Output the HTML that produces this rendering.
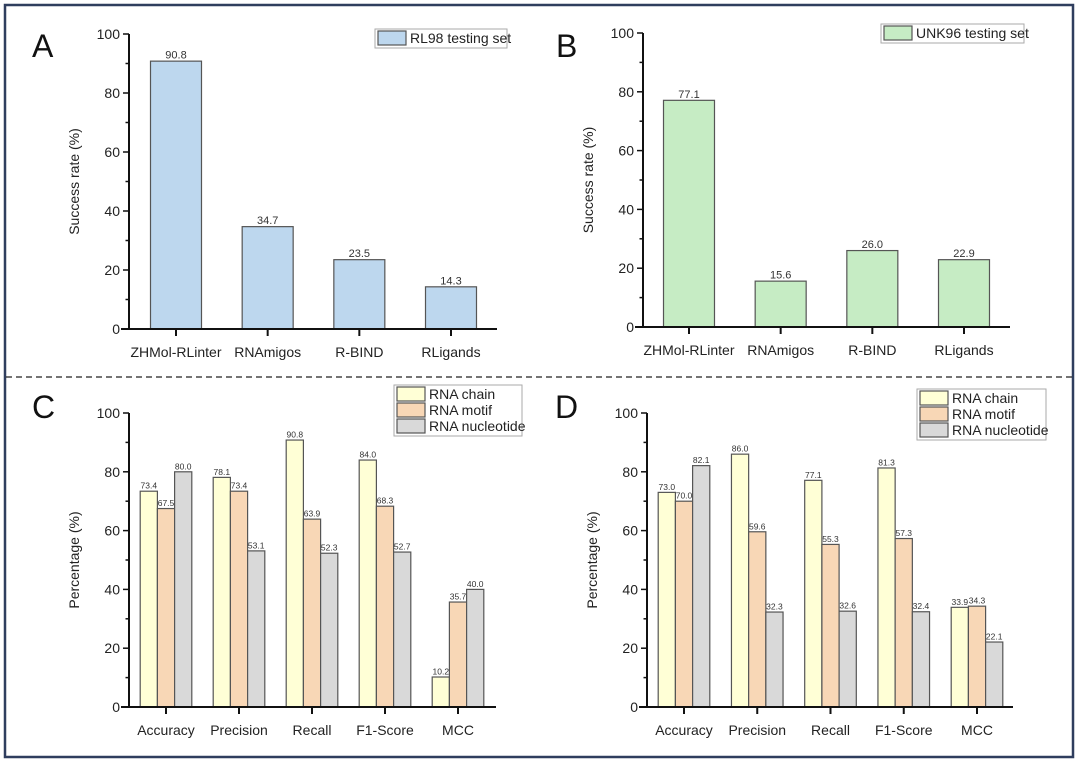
<!DOCTYPE html>
<html><head><meta charset="utf-8"><style>
html,body{margin:0;padding:0;background:#fff;}
svg{display:block;font-family:"Liberation Sans",Arial,sans-serif;}
</style></head><body>
<svg id="fig" width="1080" height="765" viewBox="0 0 1080 765">
<rect x="5" y="5" width="1068" height="752" fill="none" stroke="#2f3e5e" stroke-width="2.5"/>
<line x1="6" y1="377" x2="1072" y2="377" stroke="#222" stroke-width="1.2" stroke-dasharray="6,4"/>
</svg>
<script>
const catsAB = ["ZHMol-RLinter","RNAmigos","R-BIND","RLigands"];
const valsA = [90.8,34.7,23.5,14.3];
const valsB = [77.1,15.6,26.0,22.9];
const catsCD = ["Accuracy","Precision","Recall","F1-Score","MCC"];
const seriesNames = ["RNA chain","RNA motif","RNA nucleotide"];
const chainC = [73.4,78.1,90.8,84.0,10.2];
const motifC = [67.5,73.4,63.9,68.3,35.7];
const nucC = [80.0,53.1,52.3,52.7,40.0];
const chainD = [73.0,86.0,77.1,81.3,33.9];
const motifD = [70.0,59.6,55.3,57.3,34.3];
const nucD = [82.1,32.3,32.6,32.4,22.1];
const yTicks = [0,20,40,60,80,100];

const NS="http://www.w3.org/2000/svg";
const svg=document.getElementById('fig');
function mk(tag,attrs,parent,text){const e=document.createElementNS(NS,tag);for(const k in attrs)e.setAttribute(k,attrs[k]);if(text!==undefined)e.textContent=text;(parent||svg).appendChild(e);return e;}

function panel(p){
  const g=mk('g',{});
  
  
  const y=v=>p.y0-(p.y0-p.y100)*v/100;
  const n=p.cats.length, step=(p.xc[n-1]-p.xc[0])/(n-1);
  const xc=i=>p.xc[0]+i*step;
  // letter
  const L=mk('text',{x:p.lx,y:p.ly,'font-size':32,fill:'#111'},g,p.letter);
  
  
  // bars
  p.series.forEach((s,si)=>{
    s.vals.forEach((v,i)=>{
      const x0=xc(i)-p.bw*p.series.length/2+si*p.bw;
      const r=mk('rect',{x:x0,y:y(v),width:p.bw,height:p.y0-y(v),fill:s.color,stroke:'#555','stroke-width':1.2},g);
      
      
      const t=mk('text',{x:x0+p.bw/2,y:y(v)-2.5,'font-size':p.vfs,'text-anchor':'middle',fill:'#333'},g,v.toFixed(1));
      
      
    });
  });
  // axes
  const ax=mk('line',{x1:p.ax,y1:p.y100,x2:p.ax,y2:p.y0+1,stroke:'#111','stroke-width':2},g);
  
  
  const bx=mk('line',{x1:p.ax-8,y1:p.y0,x2:p.xend,y2:p.y0,stroke:'#111','stroke-width':2},g);
  
  
  for(let v=0;v<=100;v+=10){
    const major=v%20===0;
    mk('line',{x1:p.ax-(major?6:3.5),y1:y(v),x2:p.ax,y2:y(v),stroke:'#111','stroke-width':1.5},g);
  }
  yTicks.forEach(v=>{
    const t=mk('text',{x:p.ax-9,y:y(v)+5,'font-size':14,'text-anchor':'end',fill:'#222'},g,String(v));
    
    
  });
  p.cats.forEach((c,i)=>{
    mk('line',{x1:xc(i),y1:p.y0,x2:xc(i),y2:p.y0+7,stroke:'#111','stroke-width':2},g);
    const t=mk('text',{x:xc(i),y:p.y0+28,'font-size':14,'text-anchor':'middle',fill:'#222'},g,c);
    
    
  });
  const yt=mk('text',{x:0,y:0,'font-size':14,'text-anchor':'middle',fill:'#222',transform:`translate(${p.ax-50},${(p.y0+p.y100)/2}) rotate(-90)`},g,p.ytitle);
  
  
  // legend
  const lg=mk('g',{},g);
  
  
  const rh=p.series.length>1?16:16;
  const lh=p.series.length*rh+3;
  mk('rect',{x:p.legx,y:p.legy,width:p.legw,height:lh,fill:'#fff',stroke:'#aaa','stroke-width':1},lg);
  p.series.forEach((s,si)=>{
    const e=mk('g',{},lg);
    
    
    mk('rect',{x:p.legx+3,y:p.legy+2+si*rh,width:28,height:rh-2,fill:s.color,stroke:'#555','stroke-width':1.2},e);
    mk('text',{x:p.legx+35,y:p.legy+2+si*rh+12,'font-size':14,fill:'#222'},e,s.name);
  });
}
panel({letter:'A',lx:32,ly:57,ax:129,xend:497,y0:329,y100:34,xc:[176,267,359,451],bw:51,vfs:11,cats:catsAB,
  ytitle:'Success rate (%)',legx:375,legy:29,legw:132,series:[{name:'RL98 testing set',color:'#bdd7ee',vals:valsA}]});
panel({letter:'B',lx:556,ly:57,ax:643,xend:1010,y0:327,y100:33,xc:[689,781,873,964],bw:51,vfs:11,cats:catsAB,
  ytitle:'Success rate (%)',legx:881,legy:24,legw:143,series:[{name:'UNK96 testing set',color:'#c6ecc4',vals:valsB}]});
panel({letter:'C',lx:32,ly:418,ax:129,xend:496,y0:707,y100:413,xc:[166,239,312,386,458],bw:17.2,vfs:8.5,cats:catsCD,
  ytitle:'Percentage (%)',legx:394,legy:385,legw:128,series:[{name:seriesNames[0],color:'#ffffd6',vals:chainC},{name:seriesNames[1],color:'#f8d7b6',vals:motifC},{name:seriesNames[2],color:'#d9d9d9',vals:nucC}]});
panel({letter:'D',lx:555,ly:418,ax:647,xend:1013,y0:707,y100:413,xc:[684,757,830,904,977],bw:17.2,vfs:8.5,cats:catsCD,
  ytitle:'Percentage (%)',legx:917,legy:389,legw:129,series:[{name:seriesNames[0],color:'#ffffd6',vals:chainD},{name:seriesNames[1],color:'#f8d7b6',vals:motifD},{name:seriesNames[2],color:'#d9d9d9',vals:nucD}]});
</script>
</body></html>
